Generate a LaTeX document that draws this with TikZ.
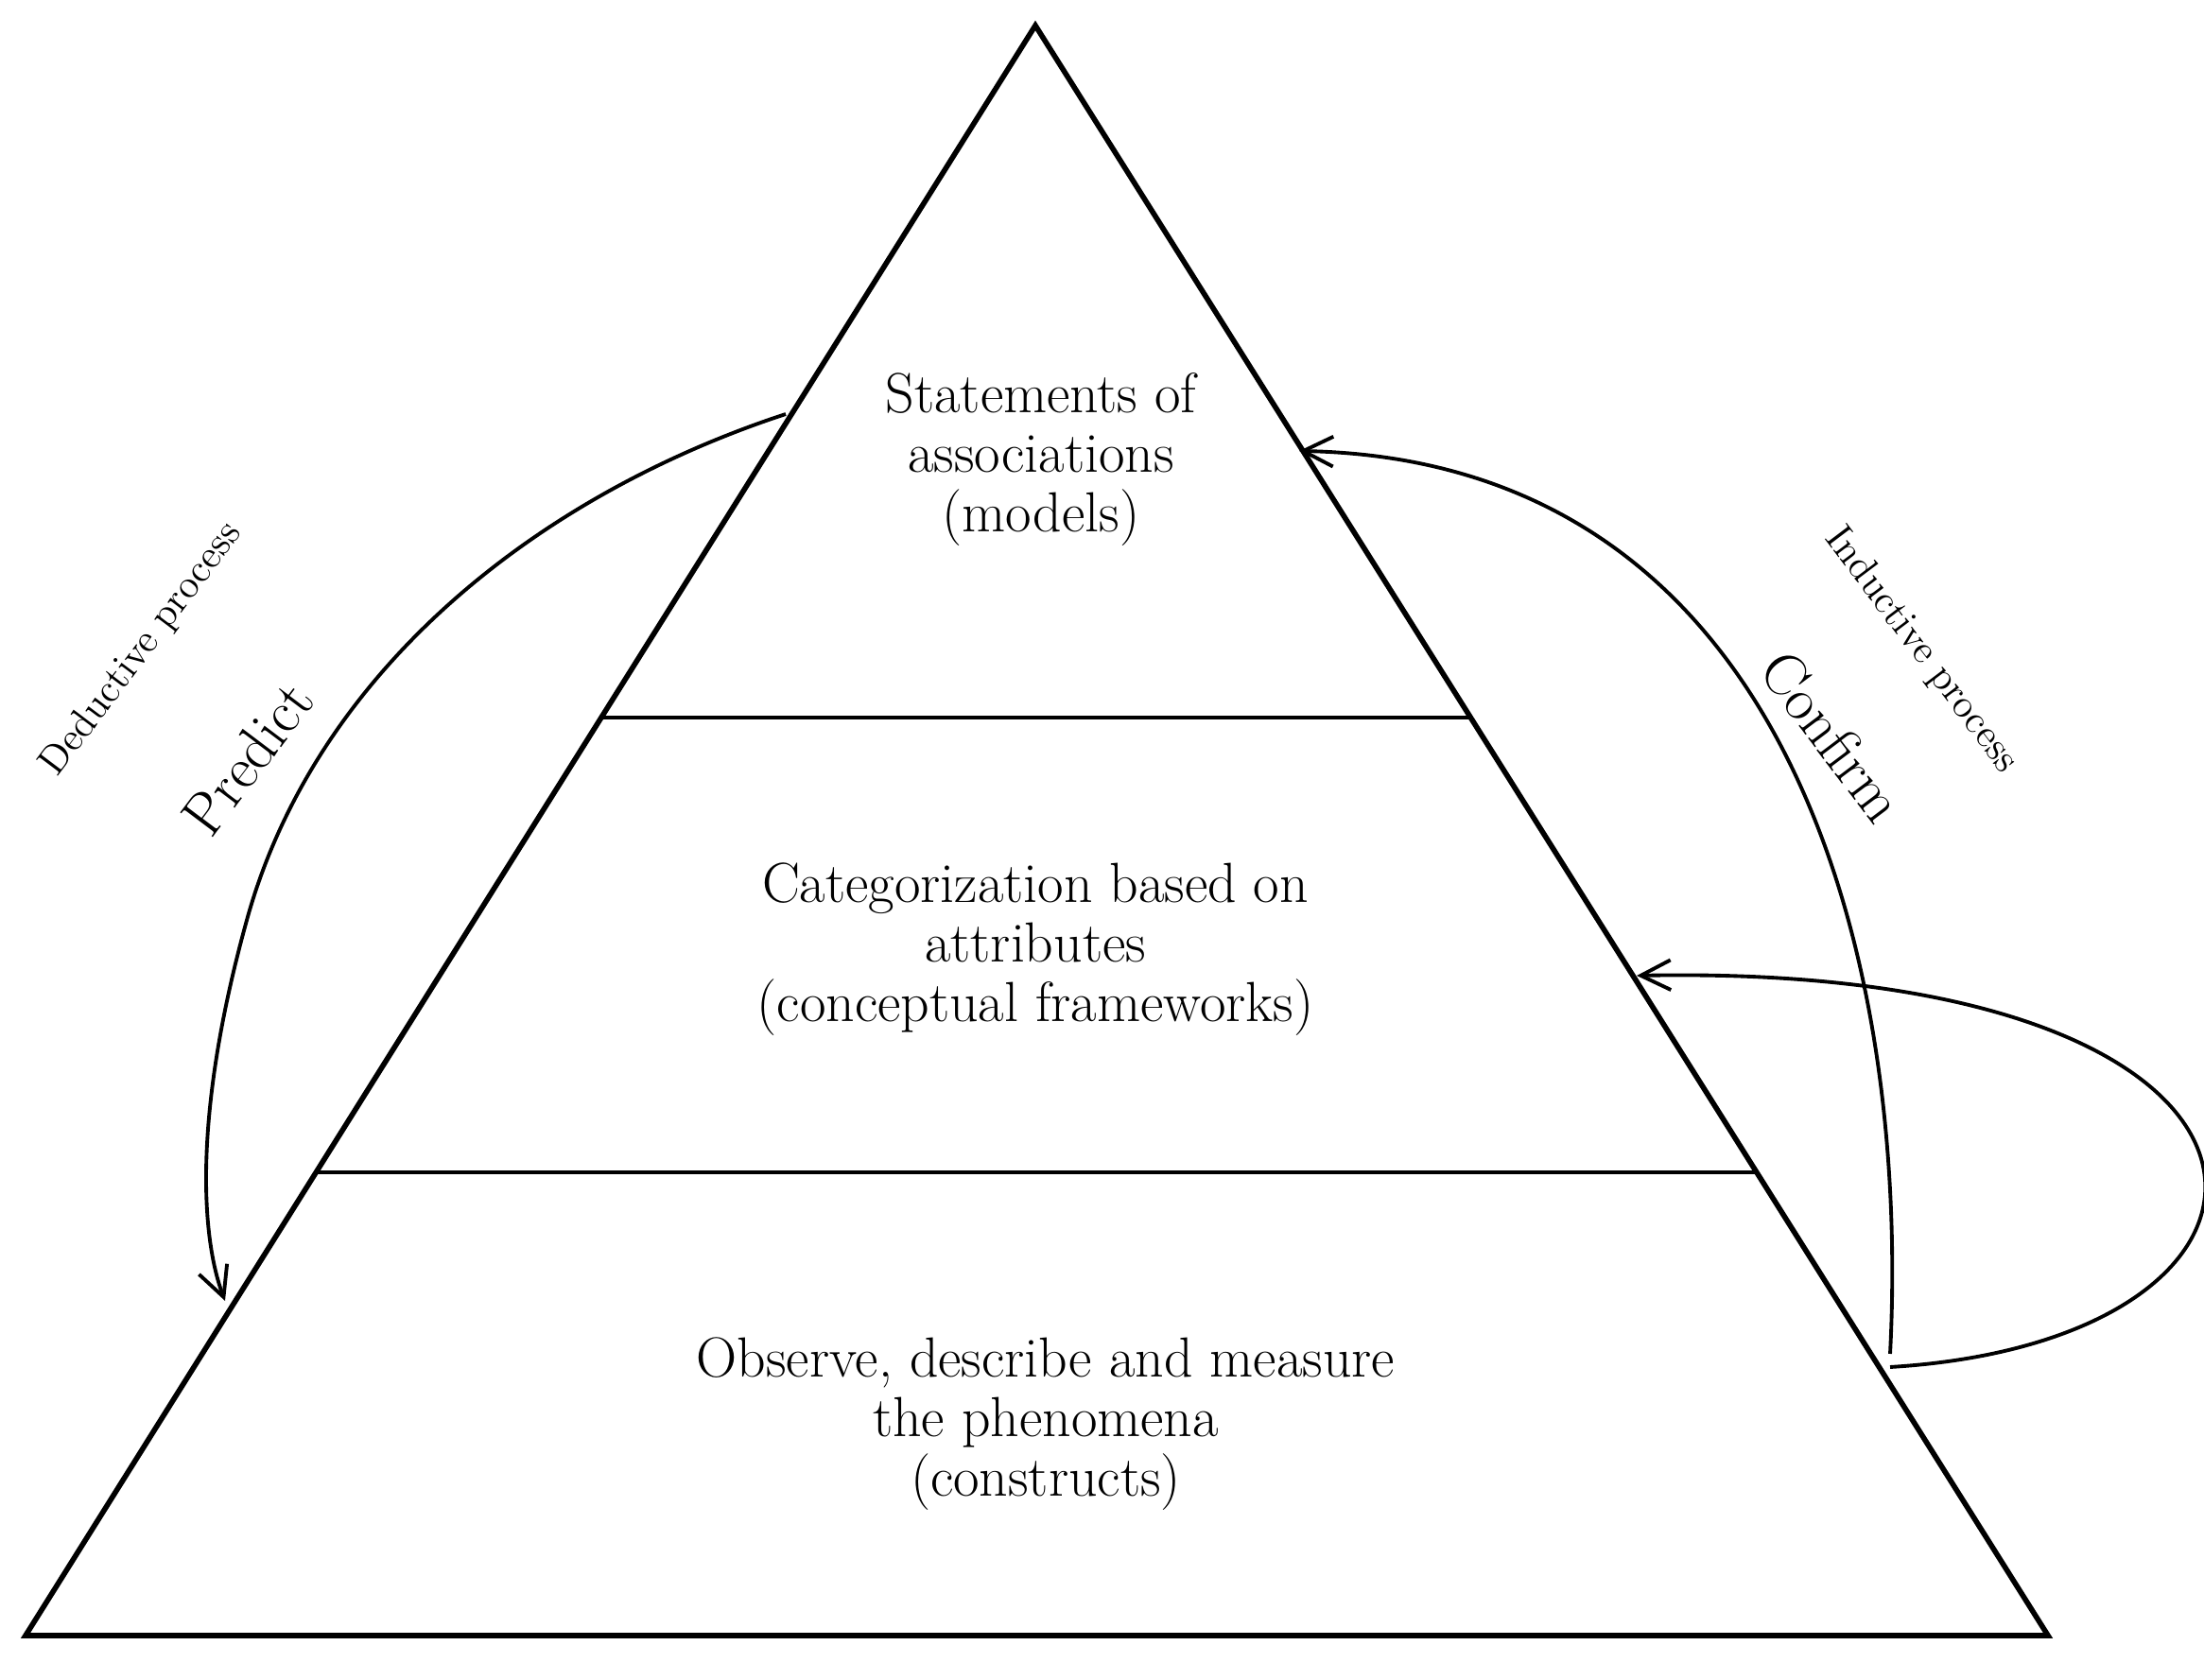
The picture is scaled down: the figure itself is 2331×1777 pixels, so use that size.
\documentclass[tikz,border=0pt]{standalone}
\usetikzlibrary{arrows.meta}
\begin{document}
\begin{tikzpicture}[x=0.01cm,y=0.01cm,
  edge/.style={line width=1.6pt},
  arr/.style={line width=1.1pt,-{Straight Barb[length=9pt,width=9pt]}},
  lbl/.style={align=center,font=\fontsize{17}{18}\selectfont},
  small/.style={font=\fontsize{12}{14}\selectfont},
  big/.style={font=\fontsize{18}{20}\selectfont}]
\useasboundingbox (0,0) rectangle (2331,1777);
\coordinate (A) at (1095,1750);
\coordinate (L) at (27,47);
\coordinate (R) at (2166,47);
\draw[edge] (A) -- (L) -- (R) -- cycle;
\coordinate (l1) at (636,1018); \coordinate (r1) at (1555,1018);
\coordinate (l2) at (334,537); \coordinate (r2) at (1858,537);
\draw[line width=1.1pt] (l1) -- (r1);
\draw[line width=1.1pt] (l2) -- (r2);
\node[lbl] (top) at (1101,1291) {Statements of\\associations\\(models)};
\node[lbl] (mid) at (1095,773) {Categorization based on\\attributes\\(conceptual frameworks)};
\node[lbl] (bot) at (1106,271) {Observe, describe and measure\\the phenomena\\(constructs)};
\coordinate (ds) at (831,1339);
\coordinate (de) at (238,401);
\draw[arr] (ds) .. controls (560,1250) and (330,1060) .. (260,800) .. controls (205,600) and (212,470) .. (de);
\coordinate (cs) at (1999,345);
\coordinate (ce) at (1374,1300);
\coordinate (ls) at (1999,331);
\coordinate (me) at (1731,745);
\draw[arr] (cs) .. controls (2020,750) and (1900,1290) .. (ce);
\draw[arr] (ls) .. controls (2480,360) and (2480,760) .. (me);
\node[small,rotate=53] (dp) at (150,1090) {Deductive process};
\node[big,rotate=53] (pr) at (262,975) {Predict};
\node[small,rotate=-53] (ip) at (2032,1089) {Inductive process};
\node[big,rotate=-53] (cf) at (1938,998) {Confirm};
\end{tikzpicture}
\end{document}
